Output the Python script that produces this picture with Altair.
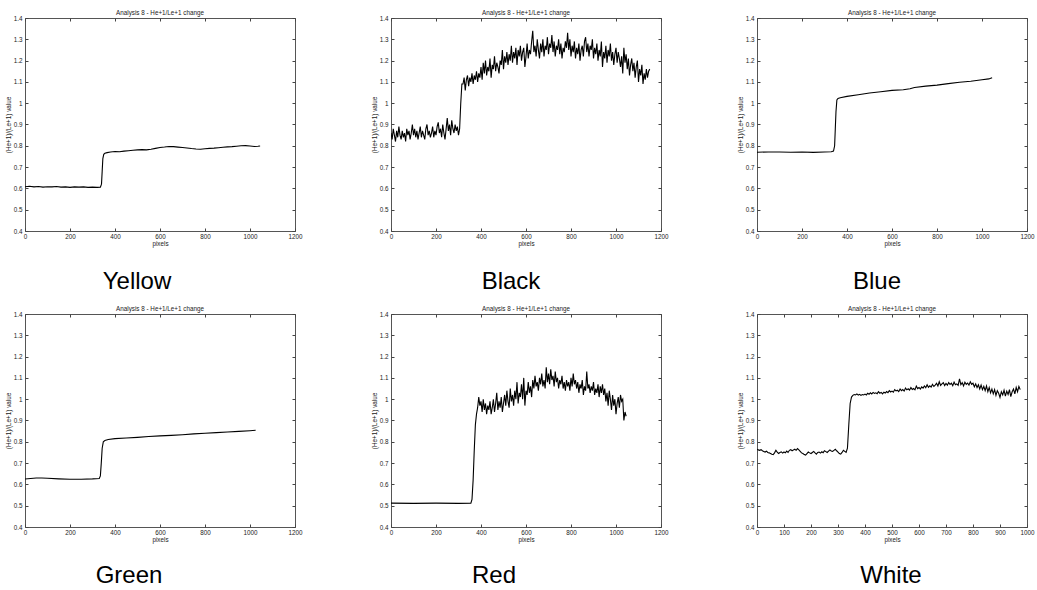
import altair as alt
import pandas as pd

# ---------------- data ----------------
yellow_x = [0, 20, 40, 60, 80, 100, 120, 140, 160, 180, 200, 220, 240, 260, 280, 300, 320, 335, 340, 343, 346, 350, 355, 365,
            380, 400, 420, 440, 460, 480, 500, 520, 540, 560, 580, 600, 620, 640, 660, 680, 700, 720, 740, 760, 780, 800,
            820, 840, 860, 880, 900, 920, 940, 960, 980, 1000, 1020, 1035, 1045]
yellow_y = [0.608, 0.610, 0.607, 0.609, 0.606, 0.608, 0.607, 0.609, 0.606, 0.607, 0.605, 0.607, 0.606, 0.607, 0.605, 0.606,
            0.605, 0.606, 0.620, 0.680, 0.740, 0.760, 0.765, 0.768, 0.771, 0.773, 0.772, 0.775, 0.777, 0.779, 0.781, 0.782,
            0.781, 0.784, 0.788, 0.792, 0.794, 0.797, 0.796, 0.794, 0.792, 0.790, 0.787, 0.785, 0.784, 0.786, 0.788, 0.789,
            0.791, 0.793, 0.795, 0.796, 0.798, 0.800, 0.801, 0.799, 0.797, 0.798, 0.799]

black_x = list(range(0, 1155, 5))
black_y = [
    0.86, 0.83, 0.88, 0.85, 0.82, 0.87, 0.84, 0.89, 0.85, 0.83,
    0.87, 0.84, 0.86, 0.82, 0.88, 0.85, 0.87, 0.83, 0.86, 0.90,
    0.85, 0.88, 0.84, 0.87, 0.83, 0.86, 0.89, 0.84, 0.87, 0.85,
    0.83, 0.88, 0.90, 0.85, 0.87, 0.84, 0.86, 0.89, 0.84, 0.87,
    0.85, 0.89, 0.91, 0.86, 0.88, 0.84, 0.90, 0.86, 0.83, 0.88,
    0.93, 0.87, 0.90, 0.85, 0.92, 0.88, 0.86, 0.90, 0.87, 0.89,
    0.85,
    0.88, 1.00, 1.09,
    1.09, 1.12, 1.06, 1.11, 1.13, 1.08, 1.12, 1.10, 1.14, 1.09,
    1.13, 1.11, 1.15, 1.10, 1.14, 1.12, 1.17, 1.11, 1.19, 1.14,
    1.20, 1.13, 1.17, 1.15, 1.21, 1.12, 1.18, 1.16, 1.22, 1.15,
    1.19, 1.17, 1.14, 1.20, 1.18, 1.25, 1.16, 1.22, 1.19, 1.24,
    1.18, 1.23, 1.20, 1.27, 1.19, 1.24, 1.21, 1.26, 1.18, 1.25,
    1.22, 1.27, 1.20, 1.24, 1.26, 1.17, 1.22, 1.28, 1.21, 1.25,
    1.23, 1.29, 1.34, 1.24, 1.27, 1.22, 1.30, 1.25, 1.21, 1.28,
    1.24, 1.30, 1.22, 1.27, 1.25, 1.31, 1.23, 1.28, 1.26, 1.32,
    1.24, 1.29, 1.22, 1.27, 1.25, 1.30, 1.23, 1.28, 1.21, 1.26,
    1.24, 1.29, 1.26, 1.33, 1.25, 1.30, 1.22, 1.27, 1.24, 1.29,
    1.21, 1.26, 1.23, 1.28, 1.20, 1.25, 1.27, 1.22, 1.29, 1.31,
    1.24, 1.28, 1.22, 1.27, 1.25, 1.30, 1.21, 1.26, 1.23, 1.28,
    1.20, 1.25, 1.22, 1.29, 1.17, 1.24, 1.21, 1.27, 1.19, 1.25,
    1.22, 1.28, 1.20, 1.24, 1.18, 1.23, 1.26, 1.19, 1.24, 1.21,
    1.17, 1.22, 1.14, 1.26, 1.19, 1.23, 1.16, 1.21, 1.13, 1.18,
    1.21, 1.15, 1.19, 1.12, 1.17, 1.20, 1.10, 1.16, 1.13, 1.18,
    1.09, 1.14, 1.11, 1.16, 1.12, 1.15, 1.16,
]

blue_x = [0, 50, 100, 150, 200, 250, 300, 330, 340, 345, 348, 351, 355, 360, 370, 400, 450, 500, 550, 600, 650, 680, 700,
          750, 800, 850, 900, 950, 1000, 1030, 1045]
blue_y = [0.770, 0.771, 0.771, 0.770, 0.771, 0.769, 0.771, 0.772, 0.775, 0.800, 0.880, 0.960, 1.015, 1.022, 1.026, 1.032,
          1.040, 1.048, 1.054, 1.060, 1.063, 1.068, 1.074, 1.080, 1.085, 1.092, 1.098, 1.103, 1.110, 1.114, 1.120]

green_x = [0, 25, 50, 75, 100, 150, 200, 250, 300, 330, 335, 339, 343, 348, 355, 370, 400, 450, 500, 550, 600, 650, 700,
           750, 800, 850, 900, 950, 1000, 1025]
green_y = [0.625, 0.628, 0.630, 0.630, 0.629, 0.626, 0.624, 0.624, 0.626, 0.628, 0.640, 0.700, 0.770, 0.800, 0.806, 0.811,
           0.815, 0.818, 0.821, 0.825, 0.828, 0.830, 0.833, 0.837, 0.840, 0.843, 0.846, 0.849, 0.852, 0.854]

red_x = [0, 100, 200, 300, 355, 360, 365, 370, 375] + list(range(380, 1050, 5))
red_y = [
    0.512, 0.511, 0.512, 0.511, 0.512, 0.530, 0.620, 0.760, 0.880,
    0.93, 0.96, 1.01, 0.97, 0.99, 0.94, 1.00, 0.95, 0.98, 0.93,
    0.97, 0.95, 0.99, 0.93, 0.96, 1.00, 0.94, 0.98, 1.03, 0.95,
    0.99, 0.96, 1.01, 0.94, 0.98, 1.02, 0.97, 1.04, 0.99, 0.96,
    1.05, 0.99, 1.02, 0.97, 1.04, 1.00, 1.08, 0.98, 1.03, 1.01,
    1.07, 1.00, 1.10, 0.97, 1.04, 1.02, 1.08, 1.03, 1.06, 1.01,
    1.09, 1.05, 1.11, 1.06, 1.08, 1.04, 1.10, 1.07, 1.12, 1.06,
    1.09, 1.05, 1.15, 1.08, 1.12, 1.07, 1.14, 1.09, 1.11, 1.06,
    1.13, 1.08, 1.10, 1.05, 1.09, 1.07, 1.11, 1.05, 1.08, 1.04,
    1.09, 1.06, 1.08, 1.04, 1.10, 1.06, 1.12, 1.07, 1.09, 1.05,
    1.08, 1.03, 1.07, 1.05, 1.09, 1.02, 1.06, 1.04, 1.13, 1.05,
    1.07, 1.03, 1.06, 1.04, 1.08, 1.02, 1.05, 1.03, 1.07, 1.01,
    1.06, 1.03, 1.07, 1.02, 1.05, 0.99, 1.03, 0.97, 1.04, 1.00,
    0.95, 1.02, 0.97, 1.00, 0.93, 0.98, 1.01, 0.96, 1.02, 0.99,
    1.00, 0.90, 0.94, 0.92,
]

white_x = list(range(0, 980, 5))
white_y = [
    0.765, 0.762, 0.760, 0.763, 0.758, 0.755, 0.752, 0.756, 0.750, 0.748,
    0.745, 0.742, 0.740, 0.748, 0.760, 0.752, 0.745, 0.750, 0.753, 0.747,
    0.752, 0.748, 0.756, 0.750, 0.760, 0.763, 0.758, 0.762, 0.765, 0.760,
    0.768, 0.762, 0.755, 0.748, 0.745, 0.740, 0.738, 0.745, 0.752, 0.748,
    0.745, 0.750, 0.755, 0.748, 0.742, 0.750, 0.752, 0.747, 0.753, 0.749,
    0.758, 0.754, 0.750, 0.756, 0.762, 0.757, 0.755, 0.760, 0.765, 0.758,
    0.752, 0.745, 0.742, 0.750, 0.760, 0.755, 0.750,
    0.770, 0.880, 0.980,
    1.010, 1.018, 1.022, 1.020, 1.025, 1.019, 1.023, 1.018, 1.022, 1.020,
    1.024, 1.020, 1.028, 1.023, 1.030, 1.025, 1.032, 1.027, 1.030, 1.026,
    1.035, 1.028, 1.032, 1.025, 1.033, 1.029, 1.036, 1.031, 1.040, 1.034,
    1.038, 1.033, 1.045, 1.039, 1.042, 1.036, 1.048, 1.040, 1.045, 1.038,
    1.052, 1.044, 1.049, 1.043, 1.055, 1.046, 1.050, 1.044, 1.062, 1.050,
    1.055, 1.048, 1.058, 1.052, 1.062, 1.054, 1.068, 1.056, 1.063, 1.057,
    1.070, 1.060, 1.066, 1.075, 1.062, 1.082, 1.065, 1.072, 1.078, 1.064,
    1.074, 1.066, 1.078, 1.069, 1.075, 1.063, 1.080, 1.068, 1.072, 1.065,
    1.095, 1.068, 1.078, 1.062, 1.080, 1.070, 1.076, 1.066, 1.082, 1.070,
    1.075, 1.058, 1.072, 1.055, 1.068, 1.048, 1.066, 1.045, 1.060, 1.040,
    1.062, 1.035, 1.055, 1.030, 1.048, 1.025, 1.045, 1.018, 1.040, 1.028,
    1.008, 1.035, 1.020, 1.042, 1.015, 1.038, 1.022, 1.045, 1.012, 1.035,
    1.048, 1.025, 1.055, 1.035, 1.060, 1.045,
]

names = ["Yellow", "Black", "Blue", "Green", "Red", "White"]
series_x = [yellow_x, black_x, blue_x, green_x, red_x, white_x]
series_y = [yellow_y, black_y, blue_y, green_y, red_y, white_y]
x_max = [1200, 1200, 1200, 1200, 1200, 1000]
x_step = [200, 200, 200, 200, 200, 100]
y_ticks = [0.4, 0.5, 0.6, 0.7, 0.8, 0.9, 1.0, 1.1, 1.2, 1.3, 1.4]
caption_pos = [(112, 271), (120, 271), (120, 271), (104, 269), (103, 269), (134, 269)]

TITLE = "Analysis 8 - He+1/Le+1 change"
YTITLE = "(He+1)/(Le+1) value"
FONT = "Liberation Sans"
FS = 6.3
TXT = "#222222"
TICK = "#444444"
W, H = 270, 213


def panel(i):
    df = pd.DataFrame({"x": series_x[i], "y": series_y[i]})
    xt = list(range(0, x_max[i] + 1, x_step[i]))
    xs = alt.Scale(domain=[0, x_max[i]], nice=False, zero=False)
    ys = alt.Scale(domain=[0.4, 1.4], nice=False, zero=False)
    base = alt.Chart(df)
    line = base.mark_line(color="black", strokeWidth=1.1, clip=True).encode(
        x=alt.X("x:Q", scale=xs, axis=alt.Axis(
            orient="bottom", values=xt, format="d", title="pixels", ticks=False, domain=False, grid=False,
            labelFlush=False, labelOverlap=False, labelPadding=2, titlePadding=1,
            labelFontSize=FS, titleFontSize=FS, labelFont=FONT, titleFont=FONT,
            labelColor=TXT, titleColor=TXT, titleFontWeight="normal")),
        y=alt.Y("y:Q", scale=ys, axis=alt.Axis(
            orient="left", values=y_ticks, format="~g", title=YTITLE, ticks=False, domain=False, grid=False,
            labelOverlap=False, labelPadding=3, titlePadding=2,
            labelFontSize=FS, titleFontSize=FS, labelFont=FONT, titleFont=FONT,
            labelColor=TXT, titleColor=TXT, titleFontWeight="normal")),
    )
    ticks_lb = base.mark_line(strokeOpacity=0).encode(
        x=alt.X("x:Q", scale=xs, axis=alt.Axis(
            orient="bottom", values=xt, labels=False, domain=False, grid=False, ticks=True,
            tickSize=3, offset=-3, tickColor=TICK, title=None)),
        y=alt.Y("y:Q", scale=ys, axis=alt.Axis(
            orient="left", values=y_ticks, labels=False, domain=False, grid=False, ticks=True,
            tickSize=3, offset=-3, tickColor=TICK, title=None)),
    )
    ticks_tr = base.mark_line(strokeOpacity=0).encode(
        x=alt.X("x:Q", scale=xs, axis=alt.Axis(
            orient="top", values=xt, labels=False, domain=False, grid=False, ticks=True,
            tickSize=3, offset=-3, tickColor=TICK, title=None)),
        y=alt.Y("y:Q", scale=ys, axis=alt.Axis(
            orient="right", values=y_ticks, labels=False, domain=False, grid=False, ticks=True,
            tickSize=3, offset=-3, tickColor=TICK, title=None)),
    )
    cx, cy = caption_pos[i]
    cap = alt.Chart(pd.DataFrame({"label": [names[i]]})).mark_text(
        font=FONT, fontSize=24, color="black", align="center", baseline="alphabetic"
    ).encode(text="label:N", x=alt.value(cx), y=alt.value(cy))
    return alt.layer(line, ticks_lb, ticks_tr, cap).resolve_axis(
        x="independent", y="independent"
    ).properties(
        width=W, height=H,
        title=alt.TitleParams(TITLE, fontSize=FS, font=FONT, fontWeight="normal", color=TXT,
                              offset=-6.5, baseline="alphabetic", anchor="middle"),
    )


chart = alt.concat(
    *[panel(i) for i in range(6)], columns=3,
    spacing=alt.RowColnumber(row=83, column=96), bounds="flush",
).properties(
    padding={"left": 4, "top": 9, "right": 0, "bottom": 0},
    background="white",
).configure_view(stroke="#555555", strokeWidth=1)

chart.save("out.html", embed_options={"renderer": "svg", "actions": False})
